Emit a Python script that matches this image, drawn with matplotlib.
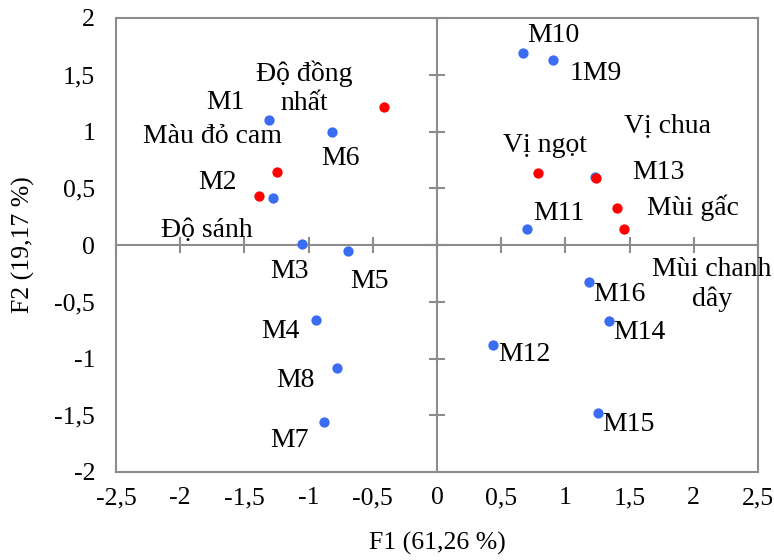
import numpy as np
import matplotlib
matplotlib.use('Agg')
import matplotlib.pyplot as plt

plt.rcParams['font.family'] = ['Liberation Serif', 'DejaVu Serif']

# samples (blue) - F1, F2 scores
samples = ['M1', 'M2', 'M3', 'M4', 'M5', 'M6', 'M7', 'M8', '1M9', 'M10',
           'M11', 'M12', 'M13', 'M14', 'M15', 'M16']
samples_f1 = [-1.31, -1.28, -1.05, -0.94, -0.69, -0.82, -0.88, -0.78, 0.90, 0.67,
              0.70, 0.44, 1.23, 1.34, 1.25, 1.18]
samples_f2 = [1.10, 0.41, 0.01, -0.66, -0.05, 1.00, -1.56, -1.08, 1.63, 1.69,
              0.14, -0.88, 0.60, -0.67, -1.48, -0.33]

# attributes (red)
attrs = ['Độ đồng\nnhất', 'Màu đỏ cam', 'Độ sánh', 'Vị ngọt', 'Vị chua',
         'Mùi gấc', 'Mùi chanh\ndây']
attrs_f1 = [-0.41, -1.25, -1.39, 0.79, 1.24, 1.40, 1.46]
attrs_f2 = [1.22, 0.64, 0.43, 0.63, 0.59, 0.33, 0.14]

xticks = [-2.5, -2, -1.5, -1, -0.5, 0, 0.5, 1, 1.5, 2, 2.5]
yticks = [-2, -1.5, -1, -0.5, 0, 0.5, 1, 1.5, 2]

# label offsets in points (layout only)
sample_off = {'M1': (-31, 13), 'M2': (-40, 11.5), 'M3': (-9, -20), 'M4': (-26, -8),
              'M5': (15, -22), 'M6': (6.5, -19.5), 'M7': (-25, -13), 'M8': (-30, -9.5),
              '1M9': (31, -9.5), 'M10': (21.5, 13), 'M11': (23, 11.5), 'M12': (22, -7),
              'M13': (46, 3), 'M14': (22, -8), 'M15': (22, -8.5), 'M16': (22, -8.5)}
attr_off = [(-58, 13), (-46, 26), (-37, -25), (5, 20), (51, 37.5), (55, 0), (63, -40)]

def fmt(v):
    return f'{v:g}'.replace('.', ',')

gray = '#8c8c8c'
fig = plt.figure(figsize=(7.74, 5.6), dpi=100)
ax = fig.add_axes([116 / 774, 1 - 472 / 560, 642 / 774, 454 / 560])

ax.axhline(0, color=gray, lw=1.5, zorder=1)
ax.axvline(0, color=gray, lw=1.5, zorder=1)
ax.plot(xticks, np.zeros(len(xticks)), ls='none', marker='|', ms=11, mew=1.5, color=gray, zorder=1)
ax.plot(np.zeros(len(yticks)), yticks, ls='none', marker='_', ms=11, mew=1.5, color=gray, zorder=1)

ax.scatter(samples_f1, samples_f2, s=55, color='#3a6cf4', zorder=3, linewidths=0)
ax.scatter(attrs_f1, attrs_f2, s=55, color='#ff0000', zorder=4, linewidths=0)

for name, x, y in zip(samples, samples_f1, samples_f2):
    ax.annotate(name, (x, y), xytext=sample_off[name], textcoords='offset points',
                ha='center', va='center', fontsize=20)
for name, x, y, off in zip(attrs, attrs_f1, attrs_f2, attr_off):
    ax.annotate(name, (x, y), xytext=off, textcoords='offset points',
                ha='center', va='center', fontsize=20, multialignment='center',
                linespacing=1.2)

ax.set_xlim(-2.5, 2.5)
ax.set_ylim(-2, 2)
ax.set_xticks(xticks)
ax.set_xticklabels([fmt(v) for v in xticks])
ax.set_yticks(yticks)
ax.set_yticklabels([fmt(v) for v in yticks])
ax.tick_params(axis='x', length=0, labelsize=18.5, pad=11)
ax.tick_params(axis='y', length=0, labelsize=18.5, pad=15)
for s in ax.spines.values():
    s.set_color(gray)
    s.set_linewidth(1.5)

ax.set_xlabel('F1 (61,26 %)', fontsize=18.5, labelpad=16)
ax.set_ylabel('F2 (19,17 %)', fontsize=18.5, labelpad=14)

fig.savefig('out.png', dpi=100)
